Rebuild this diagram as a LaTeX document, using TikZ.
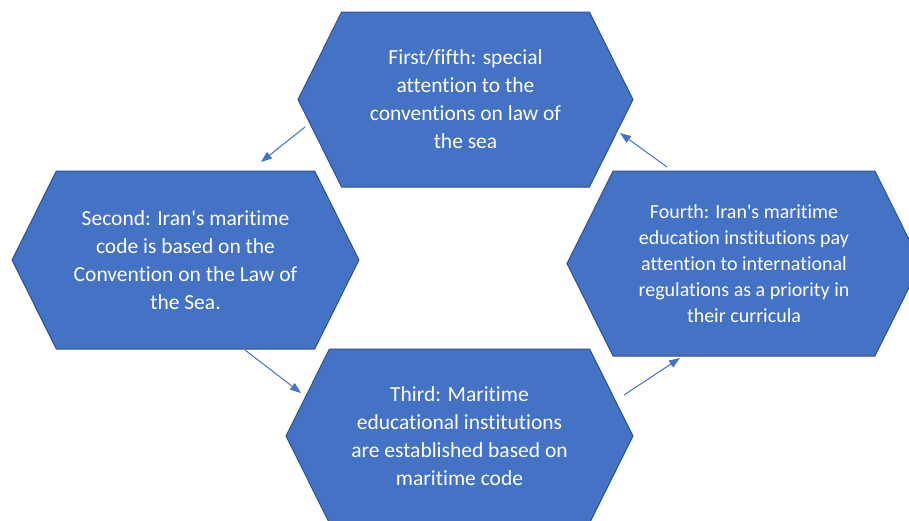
\documentclass[tikz,border=0pt]{standalone}
\usepackage{fontspec}
\setmainfont{Carlito}[Ligatures={NoCommon}]
\usetikzlibrary{arrows.meta,shapes.symbols}
\definecolor{hexblue}{RGB}{68,114,196}
\definecolor{hexedge}{RGB}{47,82,143}
\tikzset{
  hexnode/.style={signal,signal to=west and east,signal pointer angle=127,
    fill=hexblue,draw=hexedge,line width=1pt,text=white,align=center,inner sep=0pt,
    font=\fontsize{21.5}{28}\selectfont},
  flow/.style={hexblue,line width=1pt,-{Triangle[length=11pt,width=8pt]}}
}

\begin{document}
\begin{tikzpicture}[x=1pt,y=-1pt]
        \useasboundingbox (0,0) rectangle (909,520);
        \fill[white] (0,0) rectangle (909,520);
        % the four stages of the cycle
        \node[hexnode,minimum width=335pt,minimum height=175pt] (first) at (465.5,99.5)
          {First/fifth: special\\attention to the\\conventions on law of\\the sea};
        \node[hexnode,minimum width=347pt,minimum height=178pt] (second) at (185.5,260)
          {Second: Iran\textquotesingle s maritime\\code is based on the\\Convention on the Law of\\the Sea.};
        \node[hexnode,minimum width=347pt,minimum height=174pt] (third) at (459.5,436)
          {Third: Maritime\\educational institutions\\are established based on\\maritime code};
        \node[hexnode,minimum width=354pt,minimum height=185pt,font=\fontsize{20}{26}\selectfont] (fourth) at (744,263.5)
          {Fourth: Iran\textquotesingle s maritime\\education institutions pay\\attention to international\\regulations as a priority in\\their curricula};
        % arrow ends between the hexagons
        \coordinate (s12) at (305,127); \coordinate (e12) at (261,162);
        \coordinate (s23) at (245,350); \coordinate (e23) at (301,393);
        \coordinate (s34) at (624,395); \coordinate (e34) at (680,358);
        \coordinate (s41) at (667,167); \coordinate (e41) at (620,133);
        \foreach \p in {12,23,34,41} \draw[flow] (s\p) -- (e\p);
      \end{tikzpicture}
\end{document}
